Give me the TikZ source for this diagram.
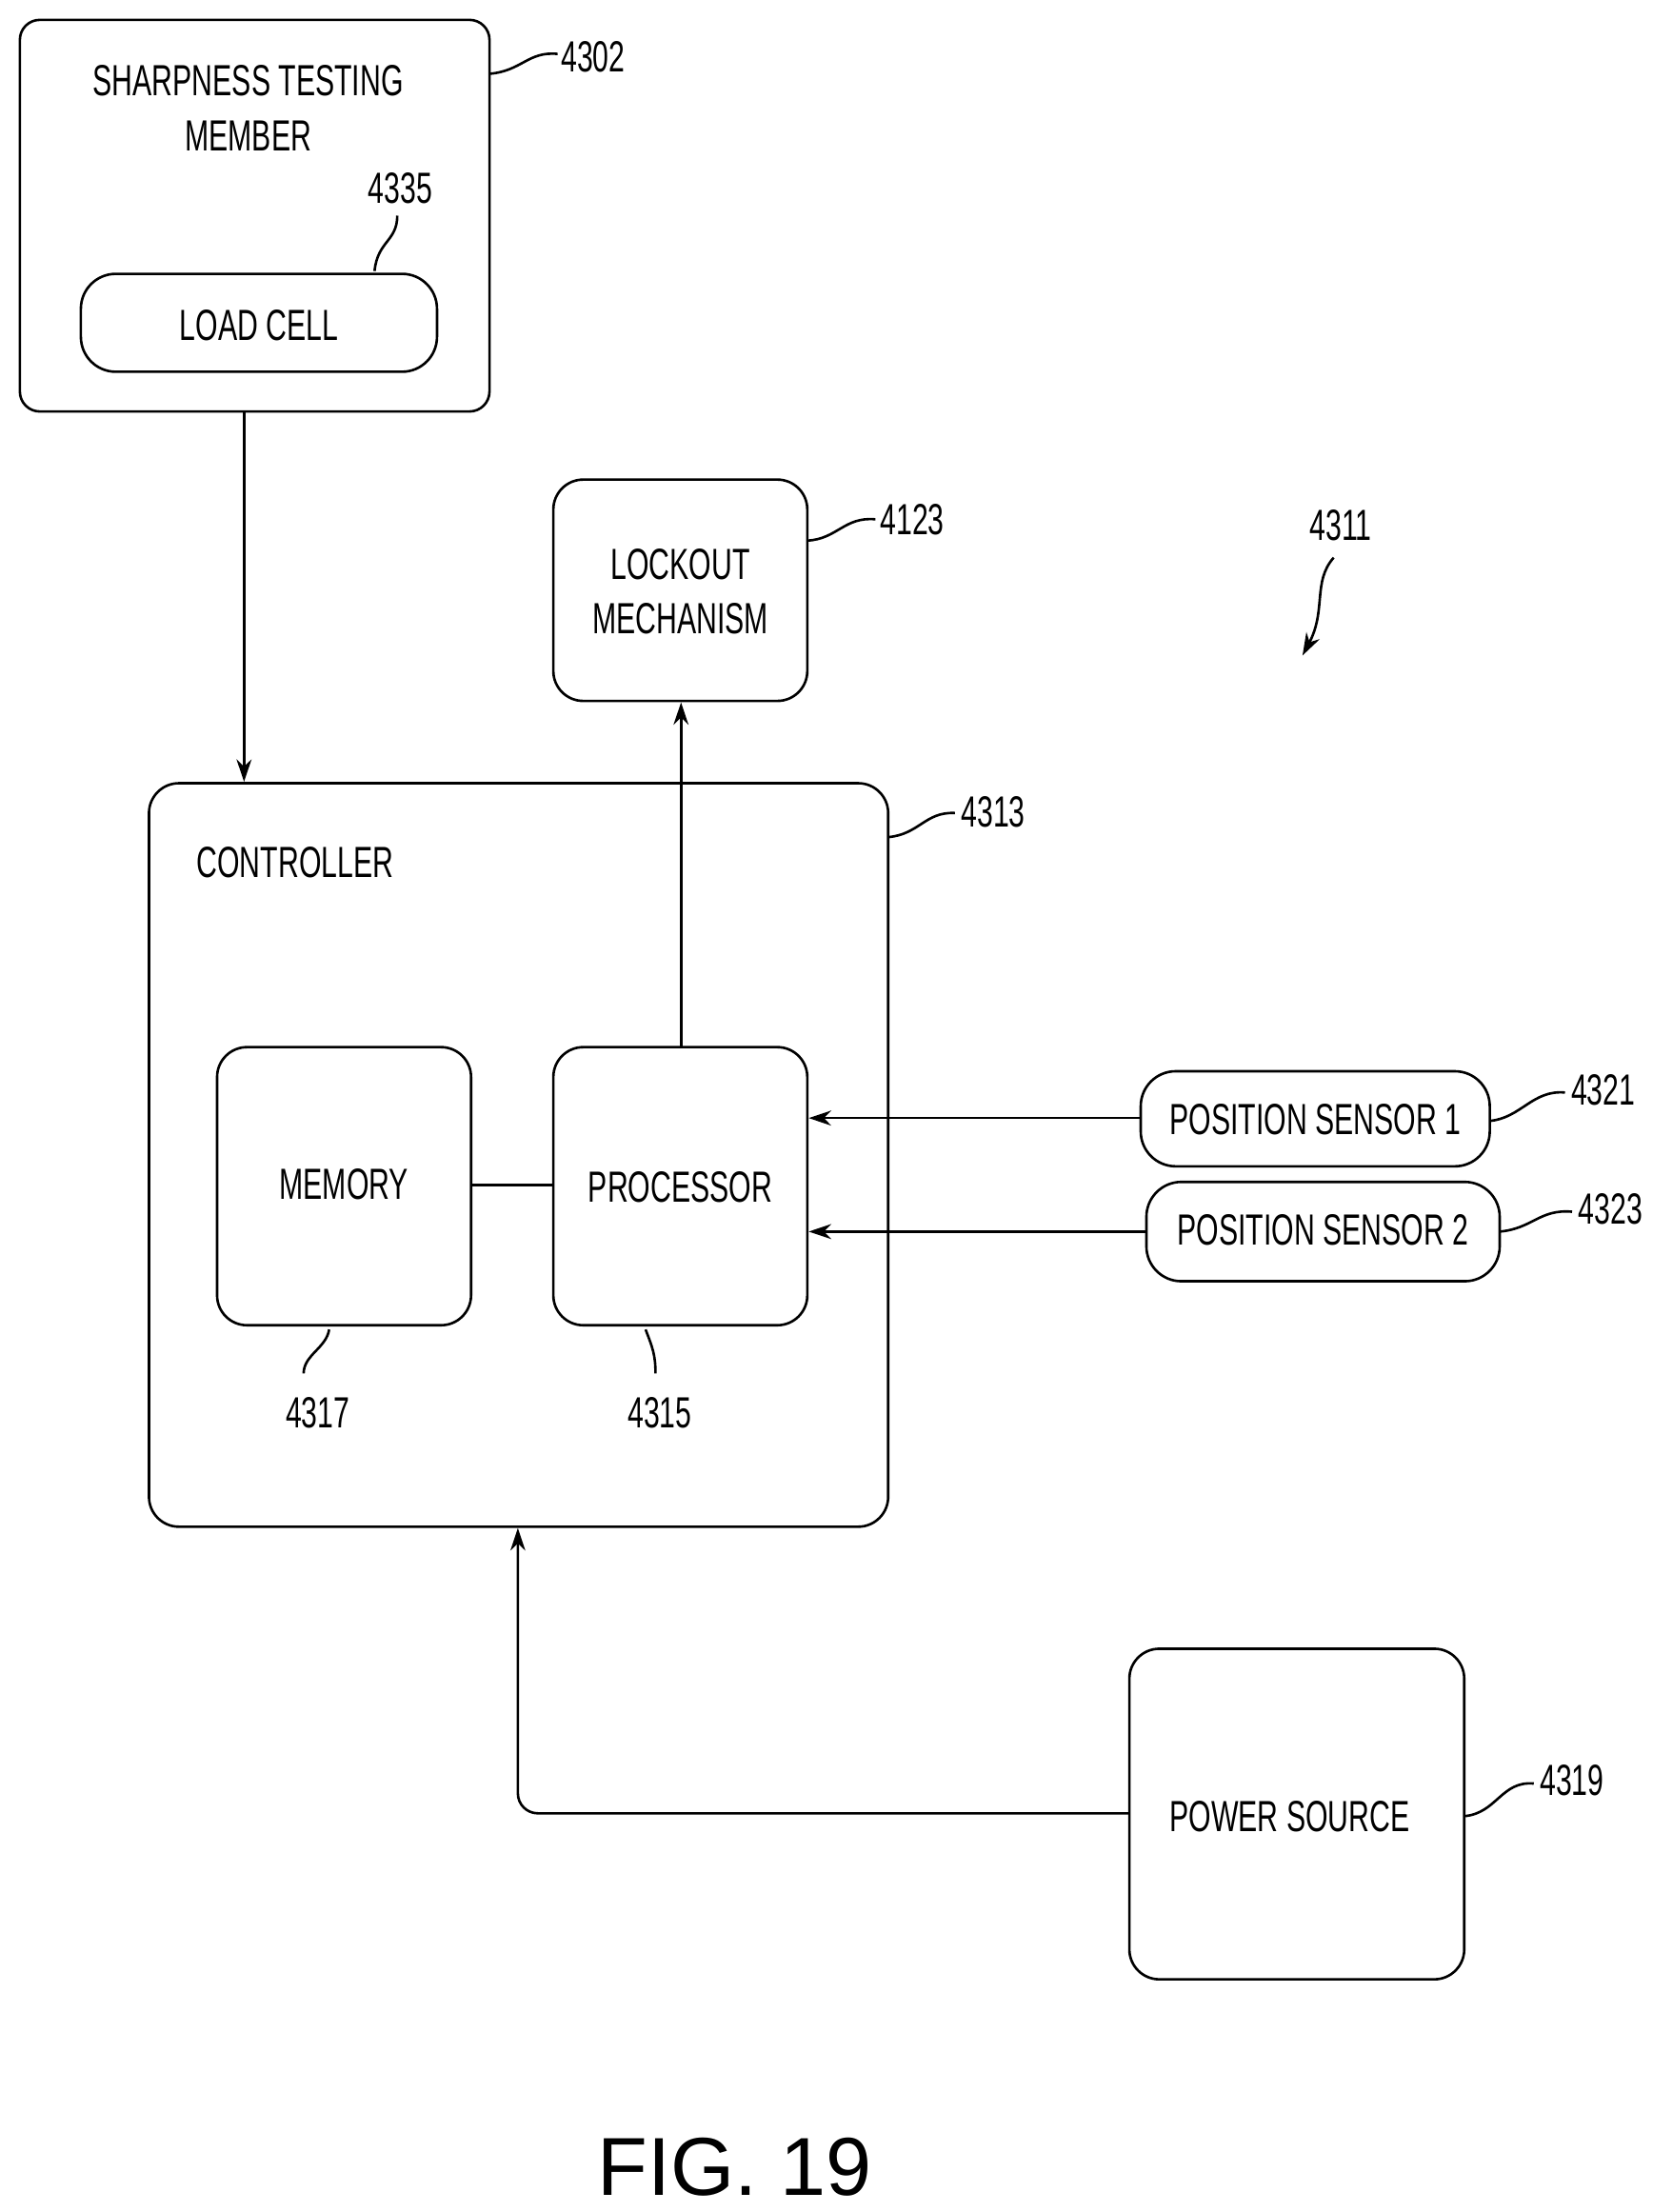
\documentclass[tikz,border=0pt]{standalone}
\usepackage{fontspec}
\setmainfont{Liberation Sans}[FakeStretch=0.66]
\newfontfamily\capfont{Liberation Sans}
\usetikzlibrary{arrows.meta}
\begin{document}
\begin{tikzpicture}[x=0.02cm,y=-0.02cm,line width=1pt,
  lbl/.style={font=\fontsize{17.5}{22}\selectfont},
  arr/.style={-{Stealth[length=9pt,width=6pt]}},
  lead/.style={line width=1pt}]
\useasboundingbox (0,0) rectangle (1165,1559);
% boxes
\draw[rounded corners=8pt] (14,14) rectangle (345,290);
\node[lbl,align=center] (stm) at (175,76) {SHARPNESS TESTING\\MEMBER};
\draw[rounded corners=14pt] (57,193) rectangle (308,262);
\node[lbl] (lc) at (182.5,229) {LOAD CELL};
\draw[rounded corners=12pt] (390,338) rectangle (569,494);
\node[lbl,align=center] (lock) at (479.5,417) {LOCKOUT\\MECHANISM};
\draw[rounded corners=12pt] (105,552) rectangle (626,1076);
\node[lbl] (ctrl) at (208,608) {CONTROLLER};
\draw[rounded corners=12pt] (153,738) rectangle (332,934);
\node[lbl] (mem) at (242.5,835) {MEMORY};
\draw[rounded corners=12pt] (390,738) rectangle (569,934);
\node[lbl] (proc) at (479.5,837) {PROCESSOR};
\draw[rounded corners=14pt] (804,755) rectangle (1050,822);
\node[lbl] (ps1) at (927,789) {POSITION SENSOR 1};
\draw[rounded corners=14pt] (808,833) rectangle (1057,903);
\node[lbl] (ps2) at (932.5,867) {POSITION SENSOR 2};
\draw[rounded corners=12pt] (796,1162) rectangle (1032,1395);
\node[lbl] (pow) at (909,1280) {POWER SOURCE};
% connectors
\coordinate (a1) at (172,290); \coordinate (a2) at (172,551);
\draw[arr] (a1) -- (a2);
\coordinate (b1) at (480,738); \coordinate (b2) at (480,495);
\draw[arr] (b1) -- (b2);
\coordinate (m1) at (332,835); \coordinate (m2) at (390,835);
\draw (m1) -- (m2);
\coordinate (c1) at (804,788); \coordinate (c2) at (570,788);
\draw[arr] (c1) -- (c2);
\coordinate (d1) at (808,868); \coordinate (d2) at (570,868);
\draw[arr] (d1) -- (d2);
\coordinate (e1) at (796,1278); \coordinate (e2) at (365,1077);
\draw[arr,rounded corners=8pt] (e1) -- (365,1278) -- (e2);
% reference labels
\node[lbl] (n4302) at (418,40) {4302};
\draw[lead] (345,52) .. controls (368,50) and (372,36) .. (393,38);
\node[lbl] (n4335) at (282,133) {4335};
\draw[lead] (264,191) .. controls (266,170) and (280,170) .. (280,152);
\node[lbl] (n4123) at (643,366) {4123};
\draw[lead] (569,381) .. controls (590,380) and (595,364) .. (617,366);
\node[lbl] (n4311) at (945,370) {4311};
\draw[arr] (940,393) .. controls (925,410) and (935,430) .. (918,462);
\node[lbl] (n4313) at (700,572) {4313};
\draw[lead] (626,590) .. controls (648,588) and (652,572) .. (673,573);
\node[lbl] (n4317) at (224,996) {4317};
\draw[lead] (232,937) .. controls (230,950) and (214,955) .. (214,968);
\node[lbl] (n4315) at (465,996) {4315};
\draw[lead] (455,937) .. controls (460,950) and (462,955) .. (462,968);
\node[lbl] (n4321) at (1130,768) {4321};
\draw[lead] (1050,790) .. controls (1072,788) and (1080,768) .. (1103,770);
\node[lbl] (n4323) at (1135,852) {4323};
\draw[lead] (1057,868) .. controls (1080,866) and (1085,852) .. (1108,854);
\node[lbl] (n4319) at (1108,1255) {4319};
\draw[lead] (1032,1280) .. controls (1055,1278) and (1058,1255) .. (1081,1257);
\node[font=\capfont\fontsize{33}{40}\selectfont] (fig) at (518,1527) {FIG. 19};
\end{tikzpicture}
\end{document}
